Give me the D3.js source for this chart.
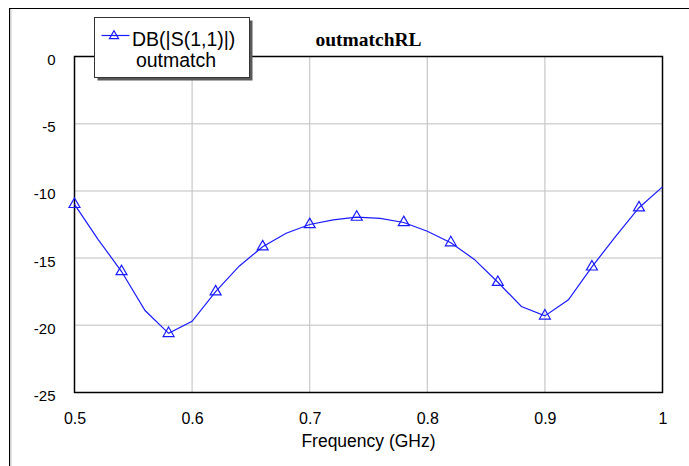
<!DOCTYPE html>
<html>
<head>
<meta charset="utf-8">
<script src="https://cdn.jsdelivr.net/npm/d3@7"></script>
<style>
  html, body { margin: 0; padding: 0; background: #fff; }
  svg { display: block; }
  .sans { font-family: "Liberation Sans", Arial, sans-serif; }
</style>
</head>
<body>
<svg id="chart" width="689" height="466"></svg>
<script>
// Return loss of the output match network, sampled every 20 MHz
const freqGHz = [0.50, 0.52, 0.54, 0.56, 0.58, 0.60, 0.62, 0.64, 0.66, 0.68, 0.70, 0.72, 0.74,
                 0.76, 0.78, 0.80, 0.82, 0.84, 0.86, 0.88, 0.90, 0.92, 0.94, 0.96, 0.98, 1.00];
const s11dB = [-11.0, -13.6, -16.0, -18.9, -20.6, -19.7, -17.5, -15.6, -14.15, -13.15, -12.5, -12.15, -11.95,
               -12.05, -12.35, -13.0, -13.85, -15.1, -16.8, -18.6, -19.3, -18.1, -15.65, -13.4, -11.25, -9.7];
const xTicks = [0.5, 0.6, 0.7, 0.8, 0.9, 1];
const xTickLabels = ["0.5", "0.6", "0.7", "0.8", "0.9", "1"];
const yTicks = [0, -5, -10, -15, -20, -25];
const yTickLabels = ["0", "-5", "-10", "-15", "-20", "-25"];
const chartTitle = "outmatchRL";
const xAxisTitle = "Frequency (GHz)";
const legendLines = ["DB(|S(1,1)|)", "outmatch"];

const svg = d3.select("#chart");
const plot = { left: 74.5, top: 56.5, right: 662.5, bottom: 392.5 };
const blue = "#1a1aff";

const x = d3.scaleLinear().domain([0.5, 1]).range([plot.left, plot.right]);
const y = d3.scaleLinear().domain([-25, 0]).range([plot.bottom, plot.top]);

// Outer frame (top and left edges)
svg.append("rect").attr("x", 10).attr("y", 9).attr("width", 1.5).attr("height", 457).attr("fill", "#cfcfcf");
svg.append("line").attr("x1", 9).attr("x2", 689).attr("y1", 8.5).attr("y2", 8.5).attr("stroke", "#000").attr("stroke-width", 1);
svg.append("line").attr("x1", 9.5).attr("x2", 9.5).attr("y1", 8).attr("y2", 466).attr("stroke", "#000").attr("stroke-width", 1);

// Grid
const grid = svg.append("g");
grid.selectAll("line.h").data(yTicks.filter(v => v > -25 && v < 0)).join("line")
  .attr("x1", plot.left).attr("x2", plot.right)
  .attr("y1", d => y(d)).attr("y2", d => y(d))
  .attr("stroke", "#d4d4d4").attr("stroke-width", 1.5);
grid.selectAll("line.v").data(xTicks.filter(v => v > 0.5 && v < 1)).join("line")
  .attr("x1", d => x(d)).attr("x2", d => x(d))
  .attr("y1", plot.top).attr("y2", plot.bottom)
  .attr("stroke", "#c8c8c8").attr("stroke-width", 1.2);

// Plot border
svg.append("rect")
  .attr("x", plot.left).attr("y", plot.top)
  .attr("width", plot.right - plot.left).attr("height", plot.bottom - plot.top)
  .attr("fill", "none").attr("stroke", "#000").attr("stroke-width", 1.5);

// Axes (labels only; frame and grid drawn above)
const xAxis = d3.axisBottom(x).tickValues(xTicks).tickSize(0).tickPadding(0)
  .tickFormat((d, i) => xTickLabels[i]);
svg.append("g").attr("transform", `translate(0,${plot.bottom})`).call(xAxis)
  .call(g => g.select(".domain").remove())
  .selectAll("text")
  .attr("class", "sans").attr("font-size", 16).attr("fill", "#000")
  .attr("dy", null).attr("y", 31);

const yAxis = d3.axisLeft(y).tickValues(yTicks).tickSize(0).tickPadding(0)
  .tickFormat((d, i) => yTickLabels[i]);
svg.append("g").attr("transform", `translate(${plot.left - 19},0)`).call(yAxis)
  .call(g => g.select(".domain").remove())
  .selectAll("text")
  .attr("class", "sans").attr("font-size", 15).attr("fill", "#000")
  .attr("dy", null).attr("y", 8);

// Axis title and chart title
svg.append("text").attr("class", "sans")
  .attr("x", (plot.left + plot.right) / 2).attr("y", 447)
  .attr("text-anchor", "middle").attr("font-size", 17.5).text(xAxisTitle);
svg.append("text")
  .attr("x", (plot.left + plot.right) / 2).attr("y", 46)
  .attr("text-anchor", "middle")
  .attr("font-family", "'Liberation Serif', 'Times New Roman', serif")
  .attr("font-weight", "bold").attr("font-size", 19.5).text(chartTitle);

// Trace
const pts = freqGHz.map((f, i) => ({ f, v: s11dB[i] }));
svg.append("path").datum(pts)
  .attr("d", d3.line().x(d => x(d.f)).y(d => y(d.v)))
  .attr("fill", "none").attr("stroke", blue).attr("stroke-width", 1.2);

const tri = d3.symbol().type(d3.symbolTriangle).size(52);
svg.selectAll("path.marker").data(pts.filter((d, i) => i % 2 === 0)).join("path")
  .attr("class", "marker")
  .attr("transform", d => `translate(${x(d.f)},${y(d.v)})`)
  .attr("d", tri)
  .attr("fill", "none").attr("stroke", blue).attr("stroke-width", 1.2);

// Legend box with drop shadow
const lg = { x: 94.5, y: 17.5, w: 155, h: 60 };
svg.append("rect").attr("x", lg.x + 3).attr("y", lg.y + 3).attr("width", lg.w).attr("height", lg.h).attr("fill", "#5a5a5a");
svg.append("rect").attr("x", lg.x).attr("y", lg.y).attr("width", lg.w).attr("height", lg.h)
  .attr("fill", "#fff").attr("stroke", "#333").attr("stroke-width", 1);
svg.append("line").attr("x1", 101.5).attr("x2", 129.5).attr("y1", 35.5).attr("y2", 35.5)
  .attr("stroke", blue).attr("stroke-width", 1.2);
svg.append("path").attr("transform", "translate(114,36)")
  .attr("d", d3.symbol().type(d3.symbolTriangle).size(36))
  .attr("fill", "none").attr("stroke", blue).attr("stroke-width", 1.2);
svg.append("text").attr("class", "sans").attr("x", 132).attr("y", 46)
  .attr("font-size", 19.5).text(legendLines[0]);
svg.append("text").attr("class", "sans").attr("x", 176).attr("y", 67)
  .attr("text-anchor", "middle").attr("font-size", 19.5).text(legendLines[1]);
</script>
</body>
</html>
